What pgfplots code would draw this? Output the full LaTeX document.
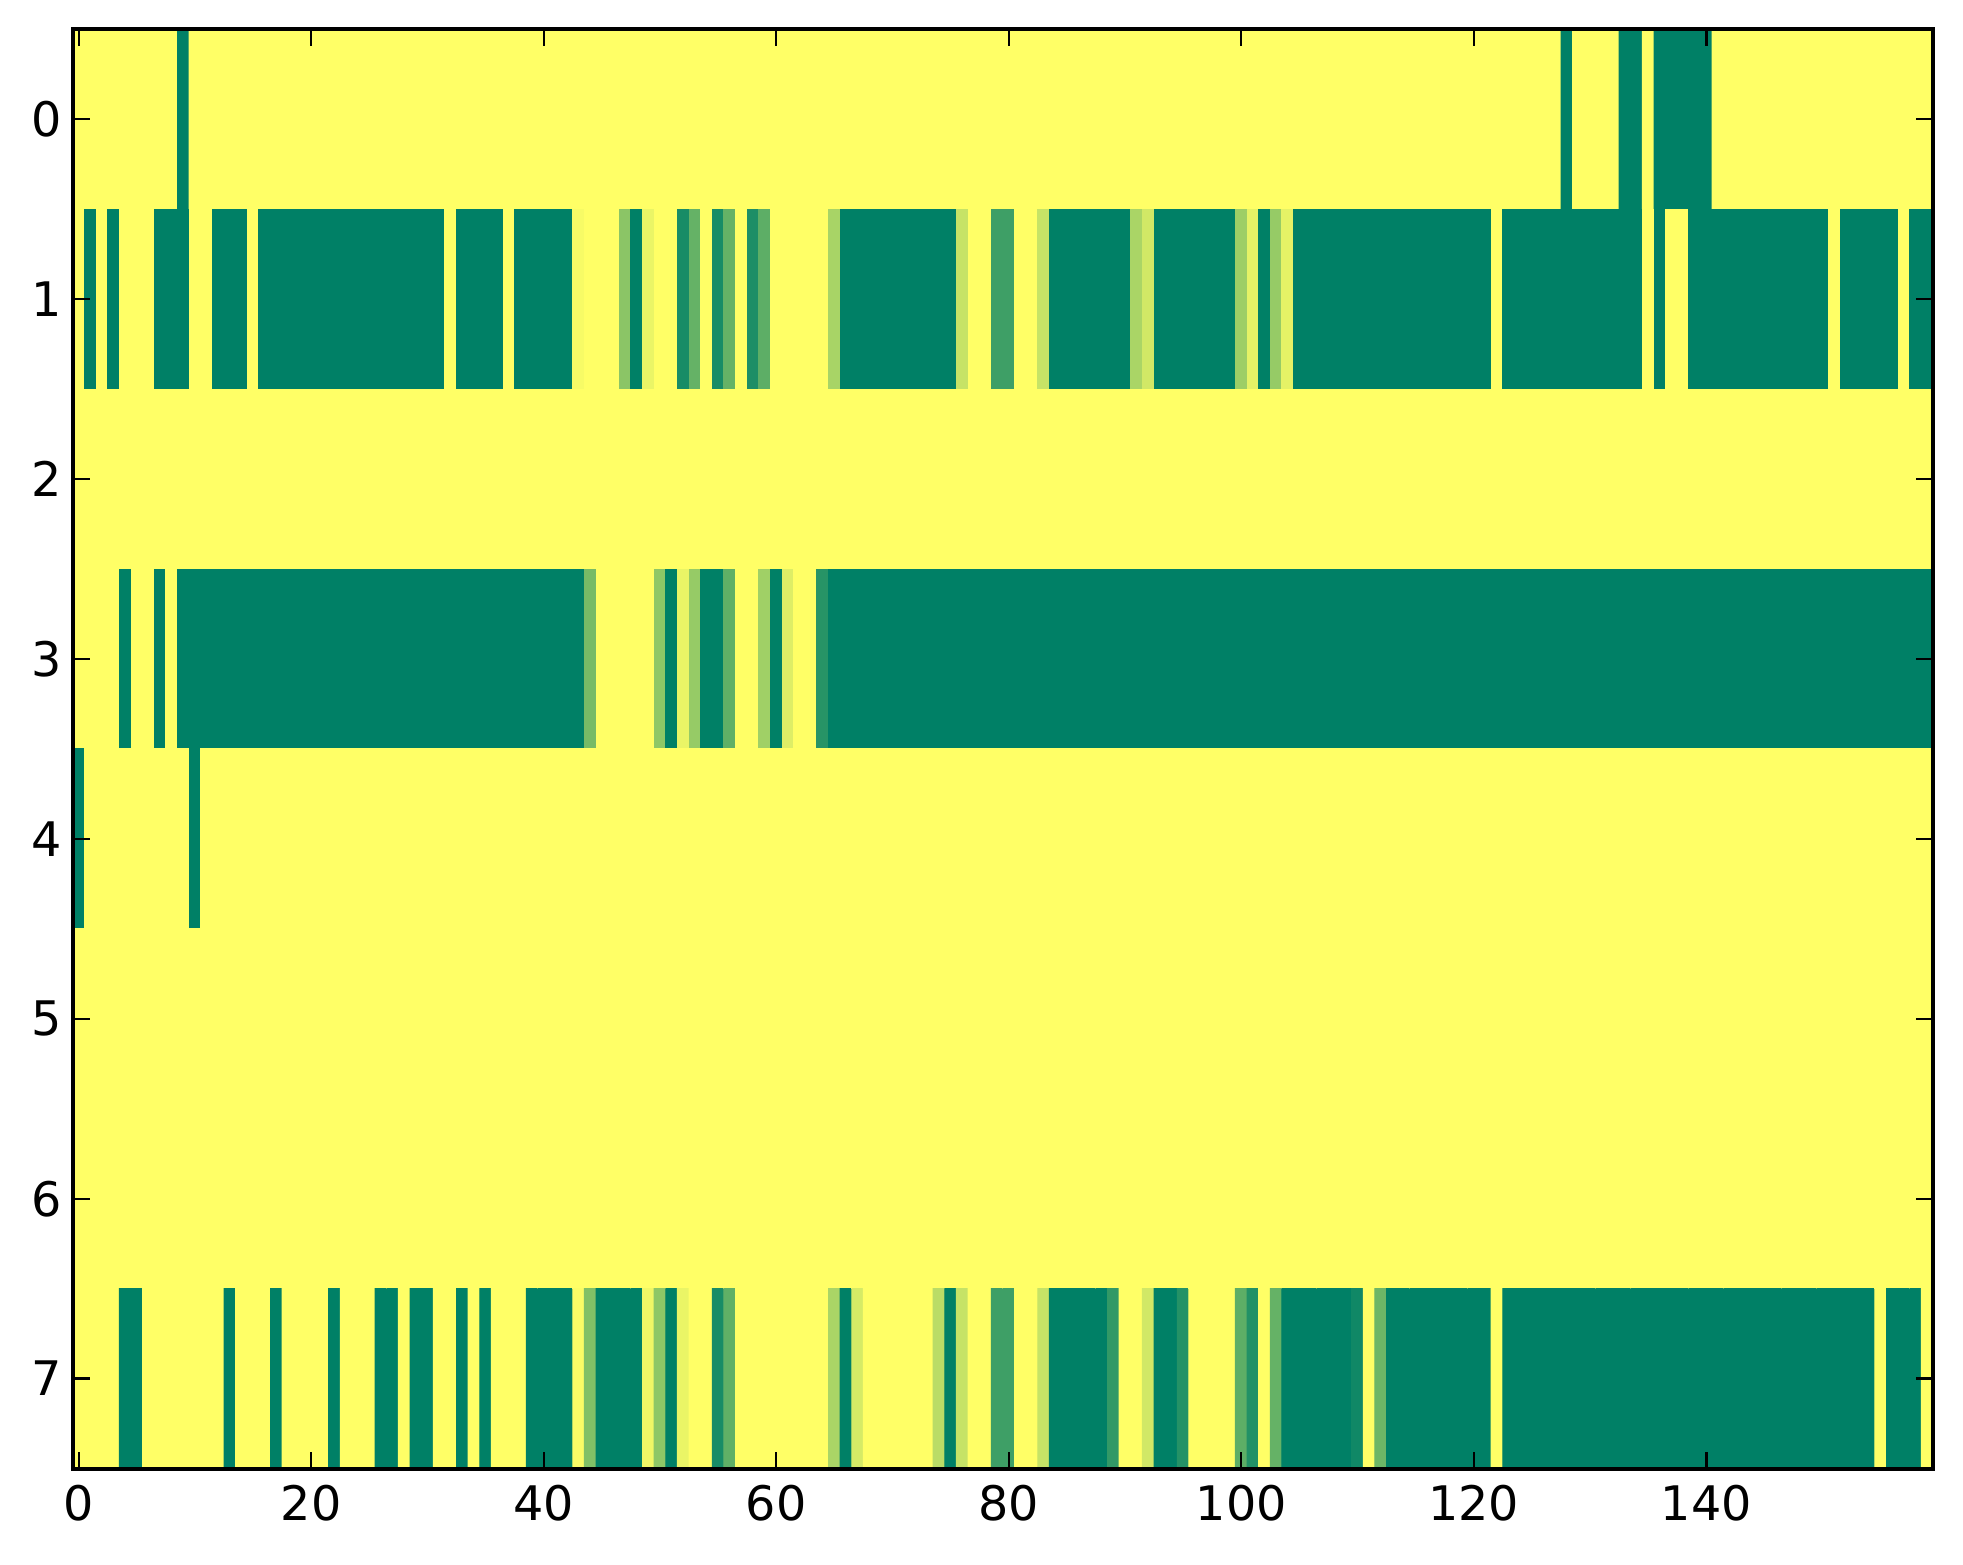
\documentclass[border=0pt]{standalone}
\usepackage{fontspec}
\setmainfont{DejaVu Sans}
\usepackage{pgfplots}
\pgfplotsset{compat=1.18}
\begin{document}
\begin{tikzpicture}
\begin{axis}[
  width=546.95pt, height=423.2pt, scale only axis,
  xmin=-0.5, xmax=159.5, ymin=-0.5, ymax=7.5, y dir=reverse,
  enlargelimits=false,
  xtick={0,20,...,140}, ytick={0,1,...,7},
  tick align=inside, tick pos=both,
  major tick length=5pt,
  tick style={black, line width=0.7pt},
  axis line style={line width=1.2pt},
  every axis/.append style={line width=1.2pt},
  ticklabel style={font=\fontsize{14}{16}\selectfont},
  xticklabel style={yshift=-1pt},
  yticklabel style={xshift=0.8pt},
  /pgf/number format/assume math mode=true,
  axis on top,
  colormap={sm}{rgb255=(255,255,102) rgb255=(0,128,102)},
  point meta min=0, point meta max=1,
]
\addplot[matrix plot*, mesh/cols=160, mesh/ordering=x varies, point meta=explicit, draw=mapped color, line width=0.3pt]
 table[row sep=\\, meta=c, x expr={mod(\coordindex,160)}, y expr={floor(\coordindex/160)}] {
c\\
0\\0\\0\\0\\0\\0\\0\\0\\0\\1\\% r0 a
0\\0\\0\\0\\0\\0\\0\\0\\0\\0\\% r0 b
0\\0\\0\\0\\0\\0\\0\\0\\0\\0\\% r0 c
0\\0\\0\\0\\0\\0\\0\\0\\0\\0\\% r0 d
0\\0\\0\\0\\0\\0\\0\\0\\0\\0\\% r0 e
0\\0\\0\\0\\0\\0\\0\\0\\0\\0\\% r0 f
0\\0\\0\\0\\0\\0\\0\\0\\0\\0\\% r0 g
0\\0\\0\\0\\0\\0\\0\\0\\0\\0\\% r0 h
0\\0\\0\\0\\0\\0\\0\\0\\0\\0\\% r0 i
0\\0\\0\\0\\0\\0\\0\\0\\0\\0\\% r0 j
0\\0\\0\\0\\0\\0\\0\\0\\0\\0\\% r0 k
0\\0\\0\\0\\0\\0\\0\\0\\0\\0\\% r0 l
0\\0\\0\\0\\0\\0\\0\\0\\1\\0\\% r0 m
0\\0\\0\\1\\1\\0\\1\\1\\1\\1\\% r0 n
1\\0\\0\\0\\0\\0\\0\\0\\0\\0\\% r0 o
0\\0\\0\\0\\0\\0\\0\\0\\0\\0\\% r0 p
0\\1\\0\\1\\0\\0\\0\\1\\1\\1\\% r1 a
0\\0\\1\\1\\1\\0\\1\\1\\1\\1\\% r1 b
1\\1\\1\\1\\1\\1\\1\\1\\1\\1\\% r1 c
1\\1\\0\\1\\1\\1\\1\\0\\1\\1\\% r1 d
1\\1\\1\\0.03\\0\\0\\0\\0.45\\1\\0.08\\% r1 e
0\\0\\0.9\\0.6\\0\\0.9\\0.6\\0\\0.88\\0.63\\% r1 f
0\\0\\0\\0\\0\\0.34\\1\\1\\1\\1\\% r1 g
1\\1\\1\\1\\1\\1\\0.22\\0\\0\\0.75\\% r1 h
0.75\\0\\0\\0.22\\1\\1\\1\\1\\1\\1\\% r1 i
1\\0.33\\0.18\\1\\1\\1\\1\\1\\1\\1\\% r1 j
0.38\\0.1\\1\\0.41\\0.1\\1\\1\\1\\1\\1\\% r1 k
1\\1\\1\\1\\1\\1\\1\\1\\1\\1\\% r1 l
1\\1\\0\\1\\1\\1\\1\\1\\1\\1\\% r1 m
1\\1\\1\\1\\1\\0\\1\\0\\0\\1\\% r1 n
1\\1\\1\\1\\1\\1\\1\\1\\1\\1\\% r1 o
1\\0\\1\\1\\1\\1\\1\\0\\1\\1\\% r1 p
0\\0\\0\\0\\0\\0\\0\\0\\0\\0\\% r2 a
0\\0\\0\\0\\0\\0\\0\\0\\0\\0\\% r2 b
0\\0\\0\\0\\0\\0\\0\\0\\0\\0\\% r2 c
0\\0\\0\\0\\0\\0\\0\\0\\0\\0\\% r2 d
0\\0\\0\\0\\0\\0\\0\\0\\0\\0\\% r2 e
0\\0\\0\\0\\0\\0\\0\\0\\0\\0\\% r2 f
0\\0\\0\\0\\0\\0\\0\\0\\0\\0\\% r2 g
0\\0\\0\\0\\0\\0\\0\\0\\0\\0\\% r2 h
0\\0\\0\\0\\0\\0\\0\\0\\0\\0\\% r2 i
0\\0\\0\\0\\0\\0\\0\\0\\0\\0\\% r2 j
0\\0\\0\\0\\0\\0\\0\\0\\0\\0\\% r2 k
0\\0\\0\\0\\0\\0\\0\\0\\0\\0\\% r2 l
0\\0\\0\\0\\0\\0\\0\\0\\0\\0\\% r2 m
0\\0\\0\\0\\0\\0\\0\\0\\0\\0\\% r2 n
0\\0\\0\\0\\0\\0\\0\\0\\0\\0\\% r2 o
0\\0\\0\\0\\0\\0\\0\\0\\0\\0\\% r2 p
0\\0\\0\\0\\1\\0\\0\\1\\0\\1\\% r3 a
1\\1\\1\\1\\1\\1\\1\\1\\1\\1\\% r3 b
1\\1\\1\\1\\1\\1\\1\\1\\1\\1\\% r3 c
1\\1\\1\\1\\1\\1\\1\\1\\1\\1\\% r3 d
1\\1\\1\\1\\0.53\\0\\0\\0\\0\\0\\% r3 e
0.44\\1\\0.08\\0.41\\1\\1\\0.62\\0\\0\\0.37\\% r3 f
1\\0.13\\0\\0\\0.84\\1\\1\\1\\1\\1\\% r3 g
1\\1\\1\\1\\1\\1\\1\\1\\1\\1\\% r3 h
1\\1\\1\\1\\1\\1\\1\\1\\1\\1\\% r3 i
1\\1\\1\\1\\1\\1\\1\\1\\1\\1\\% r3 j
1\\1\\1\\1\\1\\1\\1\\1\\1\\1\\% r3 k
1\\1\\1\\1\\1\\1\\1\\1\\1\\1\\% r3 l
1\\1\\1\\1\\1\\1\\1\\1\\1\\1\\% r3 m
1\\1\\1\\1\\1\\1\\1\\1\\1\\1\\% r3 n
1\\1\\1\\1\\1\\1\\1\\1\\1\\1\\% r3 o
1\\1\\1\\1\\1\\1\\1\\1\\1\\1\\% r3 p
1\\0\\0\\0\\0\\0\\0\\0\\0\\0\\% r4 a
1\\0\\0\\0\\0\\0\\0\\0\\0\\0\\% r4 b
0\\0\\0\\0\\0\\0\\0\\0\\0\\0\\% r4 c
0\\0\\0\\0\\0\\0\\0\\0\\0\\0\\% r4 d
0\\0\\0\\0\\0\\0\\0\\0\\0\\0\\% r4 e
0\\0\\0\\0\\0\\0\\0\\0\\0\\0\\% r4 f
0\\0\\0\\0\\0\\0\\0\\0\\0\\0\\% r4 g
0\\0\\0\\0\\0\\0\\0\\0\\0\\0\\% r4 h
0\\0\\0\\0\\0\\0\\0\\0\\0\\0\\% r4 i
0\\0\\0\\0\\0\\0\\0\\0\\0\\0\\% r4 j
0\\0\\0\\0\\0\\0\\0\\0\\0\\0\\% r4 k
0\\0\\0\\0\\0\\0\\0\\0\\0\\0\\% r4 l
0\\0\\0\\0\\0\\0\\0\\0\\0\\0\\% r4 m
0\\0\\0\\0\\0\\0\\0\\0\\0\\0\\% r4 n
0\\0\\0\\0\\0\\0\\0\\0\\0\\0\\% r4 o
0\\0\\0\\0\\0\\0\\0\\0\\0\\0\\% r4 p
0\\0\\0\\0\\0\\0\\0\\0\\0\\0\\% r5 a
0\\0\\0\\0\\0\\0\\0\\0\\0\\0\\% r5 b
0\\0\\0\\0\\0\\0\\0\\0\\0\\0\\% r5 c
0\\0\\0\\0\\0\\0\\0\\0\\0\\0\\% r5 d
0\\0\\0\\0\\0\\0\\0\\0\\0\\0\\% r5 e
0\\0\\0\\0\\0\\0\\0\\0\\0\\0\\% r5 f
0\\0\\0\\0\\0\\0\\0\\0\\0\\0\\% r5 g
0\\0\\0\\0\\0\\0\\0\\0\\0\\0\\% r5 h
0\\0\\0\\0\\0\\0\\0\\0\\0\\0\\% r5 i
0\\0\\0\\0\\0\\0\\0\\0\\0\\0\\% r5 j
0\\0\\0\\0\\0\\0\\0\\0\\0\\0\\% r5 k
0\\0\\0\\0\\0\\0\\0\\0\\0\\0\\% r5 l
0\\0\\0\\0\\0\\0\\0\\0\\0\\0\\% r5 m
0\\0\\0\\0\\0\\0\\0\\0\\0\\0\\% r5 n
0\\0\\0\\0\\0\\0\\0\\0\\0\\0\\% r5 o
0\\0\\0\\0\\0\\0\\0\\0\\0\\0\\% r5 p
0\\0\\0\\0\\0\\0\\0\\0\\0\\0\\% r6 a
0\\0\\0\\0\\0\\0\\0\\0\\0\\0\\% r6 b
0\\0\\0\\0\\0\\0\\0\\0\\0\\0\\% r6 c
0\\0\\0\\0\\0\\0\\0\\0\\0\\0\\% r6 d
0\\0\\0\\0\\0\\0\\0\\0\\0\\0\\% r6 e
0\\0\\0\\0\\0\\0\\0\\0\\0\\0\\% r6 f
0\\0\\0\\0\\0\\0\\0\\0\\0\\0\\% r6 g
0\\0\\0\\0\\0\\0\\0\\0\\0\\0\\% r6 h
0\\0\\0\\0\\0\\0\\0\\0\\0\\0\\% r6 i
0\\0\\0\\0\\0\\0\\0\\0\\0\\0\\% r6 j
0\\0\\0\\0\\0\\0\\0\\0\\0\\0\\% r6 k
0\\0\\0\\0\\0\\0\\0\\0\\0\\0\\% r6 l
0\\0\\0\\0\\0\\0\\0\\0\\0\\0\\% r6 m
0\\0\\0\\0\\0\\0\\0\\0\\0\\0\\% r6 n
0\\0\\0\\0\\0\\0\\0\\0\\0\\0\\% r6 o
0\\0\\0\\0\\0\\0\\0\\0\\0\\0\\% r6 p
0\\0\\0\\0\\1\\1\\0\\0\\0\\0\\% r7 a
0\\0\\0\\1\\0\\0\\0\\1\\0\\0\\% r7 b
0\\0\\1\\0\\0\\0\\1\\1\\0\\1\\% r7 c
1\\0\\0\\1\\0\\1\\0\\0\\0\\1\\% r7 d
1\\1\\1\\0.02\\0.49\\1\\1\\1\\1\\0.06\\% r7 e
0.44\\1\\0.08\\0\\0\\0.9\\0.62\\0\\0\\0\\% r7 f
0\\0\\0\\0\\0\\0.33\\1\\0.16\\0\\0\\% r7 g
0\\0\\0\\0\\0.27\\1\\0.22\\0\\0\\0.75\\% r7 h
0.75\\0\\0\\0.22\\1\\1\\1\\1\\1\\0.8\\% r7 i
0\\0\\0.18\\1\\1\\0.85\\0\\0\\0\\0\\% r7 j
0.63\\0.86\\0\\0.6\\1\\1\\1\\1\\1\\1\\% r7 k
0.93\\0\\0.57\\1\\1\\1\\1\\1\\1\\1\\% r7 l
1\\1\\0\\1\\1\\1\\1\\1\\1\\1\\% r7 m
1\\1\\1\\1\\1\\1\\1\\1\\1\\1\\% r7 n
1\\1\\1\\1\\1\\1\\1\\1\\1\\1\\% r7 o
1\\1\\1\\1\\1\\0\\1\\1\\1\\0\\% r7 p
};
\end{axis}
\pgfresetboundingbox
\path ([xshift=-21.44pt,yshift=-28.08pt]current axis.south west) rectangle ([xshift=8.82pt,yshift=8.62pt]current axis.north east);
\end{tikzpicture}
\end{document}
